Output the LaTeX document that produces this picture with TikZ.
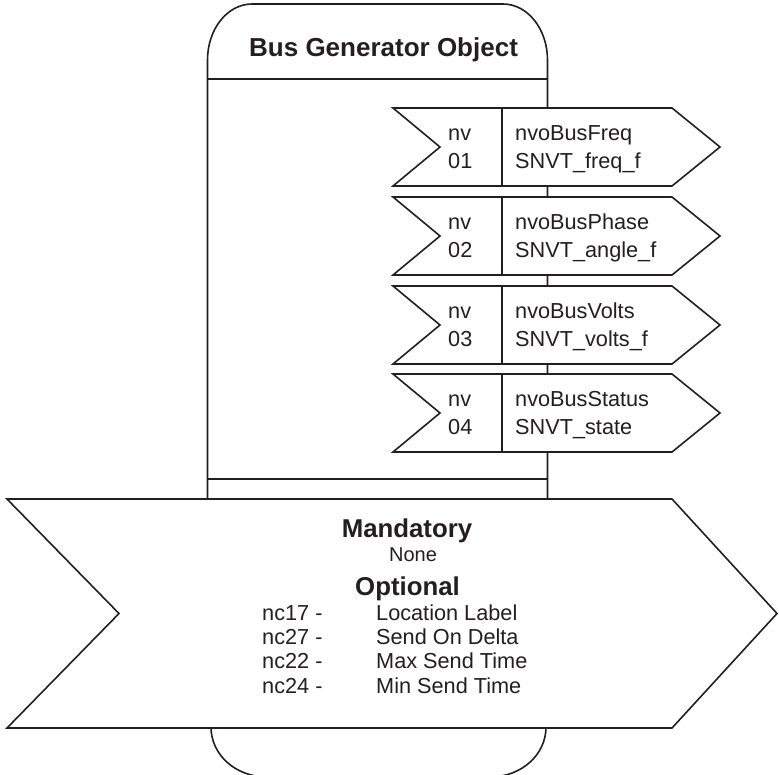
\documentclass[tikz,border=0pt]{standalone}
\usepackage{fontspec}
\setmainfont{Liberation Sans}
\definecolor{ink}{RGB}{35,31,32}
\tikzset{
  outline/.style={draw=ink, line width=1.6pt, line join=miter},
  shapefill/.style={outline, fill=white},
  titletxt/.style={font=\fontsize{26}{30}\selectfont\bfseries, text=ink, inner sep=0pt, anchor=base west},
  nvtxt/.style={font=\fontsize{21.7}{26}\selectfont, text=ink, inner sep=0pt, anchor=base west},
  headtxt/.style={font=\fontsize{25.8}{30}\selectfont\bfseries, text=ink, inner sep=0pt, anchor=base},
  nonetxt/.style={font=\fontsize{20}{24}\selectfont, text=ink, inner sep=0pt, anchor=base},
  listtxt/.style={font=\fontsize{21.7}{26}\selectfont, text=ink, inner sep=0pt, anchor=base west}
}
\begin{document}
\begin{tikzpicture}[x=1pt,y=-1pt]
\useasboundingbox (0,0) rectangle (779,774);
% main object body (top part)
\draw[outline] (207.5,500) -- (207.5,60)
  .. controls (207.5,29.1) and (227.4,4) .. (252,4)
  -- (503,4)
  .. controls (527.6,4) and (547.5,29.1) .. (547.5,60)
  -- (547.5,500);
\draw[outline] (207.5,79) -- (547.5,79);
\draw[outline] (207.5,479) -- (547.5,479);
% bottom part of the object
\draw[outline] (211,727) .. controls (211,755) and (236,777) .. (267,777)
  -- (490,777) .. controls (521,777) and (546,755) .. (546,727);
\node[titletxt] (title) at (249,56) {Bus Generator Object};
% network variable arrows
\foreach \t/\n/\a/\b in {108/01/nvoBusFreq/SNVT\_freq\_f,
                        197/02/nvoBusPhase/SNVT\_angle\_f,
                        286/03/nvoBusVolts/SNVT\_volts\_f,
                        374/04/nvoBusStatus/SNVT\_state}{
  \draw[shapefill] (393,\t) -- (672,\t) -- (720,\t+39) -- (672,\t+78)
     -- (393,\t+78) -- (440,\t+39) -- cycle;
  \draw[outline] (502,\t) -- (502,\t+78);
  \node[nvtxt] (nvA\n) at (448,\t+32.5) {nv};
  \node[nvtxt] (nvB\n) at (448,\t+60.5) {\n};
  \node[nvtxt] (name\n) at (515,\t+32.5) {\a};
  \node[nvtxt] (type\n) at (515,\t+60.5) {\b};
}
% configuration arrow
\draw[shapefill] (7,499) -- (672,499) -- (777,613.5) -- (672,728)
  -- (7,728) -- (119,613.5) -- cycle;
\node[headtxt] (mand) at (407,537) {Mandatory};
\node[nonetxt] (none) at (413,561) {None};
\node[headtxt] (opt) at (407.5,595) {Optional};
\foreach \y/\c/\d [count=\i] in {620/nc17/Location Label,
                                644.3/nc27/Send On Delta,
                                668.6/nc22/Max Send Time,
                                693/nc24/Min Send Time}{
  \node[listtxt] (nc\i) at (262,\y) {\c\ -};
  \node[listtxt] (lab\i) at (376,\y) {\d};
}
\end{tikzpicture}
\end{document}
